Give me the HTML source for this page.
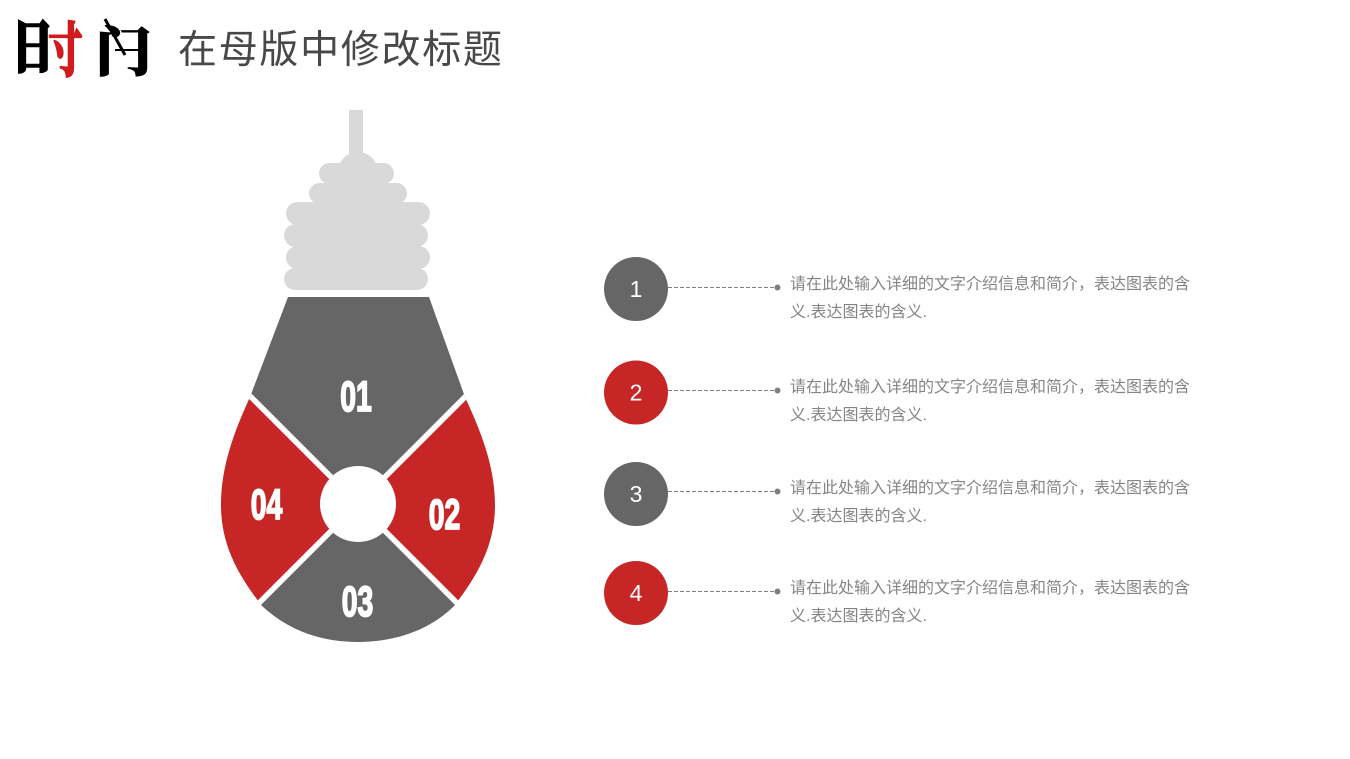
<!DOCTYPE html>
<html lang="zh">
<head>
<meta charset="utf-8">
<style>
html,body{margin:0;padding:0;background:#fff;width:1350px;height:759px;overflow:hidden}
svg{display:block}
.t{font-family:"Liberation Sans","Noto Sans CJK SC",sans-serif;font-size:16px;fill:#858585}
.n{font-family:"Liberation Sans","Noto Sans CJK SC",sans-serif;font-size:23px;fill:#fff;text-anchor:middle}
.b{font-family:"Liberation Sans",sans-serif;font-weight:bold;font-size:43px;fill:#fff;stroke:#fff;stroke-width:1.8;text-anchor:middle}
.s{font-family:"Noto Serif CJK SC",serif;font-weight:900;font-size:60px}
</style>
</head>
<body>
<svg width="1350" height="759" viewBox="0 0 1350 759" xmlns="http://www.w3.org/2000/svg">
<defs>
<clipPath id="bulb">
<path d="M288 297H429L465 397C480 430 495 465 495 505C495 545 478 575 454 606C430 630 395 642 358 642C320 642 288 630 262 606C238 575 221 545 221 505C221 465 235 430 250 397Z"/>
</clipPath>
</defs>

<text class="s" transform="translate(11.500 67) scale(.7 .95)" fill="#000" stroke="#000" stroke-width="2.500">日</text>
<text class="s" transform="translate(48 71) scale(.58 .98)" fill="#d01c1f" stroke="#d01c1f" stroke-width="2">寸</text>
<text class="s" transform="translate(95 71) scale(.95 .88)" fill="#000" stroke="#000" stroke-width="1">门</text>
<line x1="105" y1="19" x2="125" y2="55" stroke="#000" stroke-width="3"/>
<rect x="115" y="49" width="24" height="2" fill="#000"/>

<text x="178" y="63" font-family="'Liberation Sans','Noto Sans CJK SC',sans-serif" font-size="39" font-weight="400" letter-spacing="1.7" fill="#484848">在母版中修改标题</text>

<g fill="#d9d9d9">
<rect x="349" y="110" width="14" height="60"/>
<circle cx="358" cy="172" r="20"/>
<rect x="319" y="163" width="75" height="21" rx="10.5"/>
<rect x="309" y="183" width="98" height="21" rx="10.5"/>
<rect x="286" y="202" width="144" height="23" rx="11.5"/>
<rect x="284" y="224" width="144" height="23" rx="11.5"/>
<rect x="286" y="246" width="144" height="23" rx="11.5"/>
<rect x="284" y="268" width="144" height="22" rx="11"/>
</g>

<g clip-path="url(#bulb)">
<path d="M358 504L140 286H576Z" fill="#666"/>
<path d="M358 504L140 722H576Z" fill="#666"/>
<path d="M358 504L140 286V722Z" fill="#c62626"/>
<path d="M358 504L576 286V722Z" fill="#c62626"/>
<path d="M240 386L476 622M476 386L240 622" stroke="#fff" stroke-width="5.5" fill="none"/>
</g>
<circle cx="358" cy="504" r="38" fill="#fff"/>

<text class="b" transform="translate(356 411) scale(.66 1)">01</text>
<text class="b" transform="translate(444.500 529) scale(.66 1)">02</text>
<text class="b" transform="translate(357.500 616) scale(.66 1)">03</text>
<text class="b" transform="translate(266.500 519) scale(.66 1)">04</text>

<g fill="#666"><circle cx="636" cy="289" r="32"/><circle cx="636" cy="494" r="32"/></g>
<g fill="#c62626"><circle cx="636" cy="392.500" r="32"/><circle cx="636" cy="593" r="32"/></g>
<text class="n" x="636" y="297">1</text>
<text class="n" x="636" y="400.500">2</text>
<text class="n" x="636" y="502">3</text>
<text class="n" x="636" y="601">4</text>

<g stroke="#7f7f7f" stroke-width="1" stroke-dasharray="4 2" fill="none">
<path d="M668 287.500H776M668 390.500H776M668 491.500H776M668 591.500H776"/>
</g>
<g fill="#7f7f7f">
<circle cx="777.500" cy="287.500" r="3"/><circle cx="777.500" cy="390.500" r="3"/><circle cx="777.500" cy="491.500" r="3"/><circle cx="777.500" cy="591.500" r="3"/>
</g>

<text class="t" x="790" y="289">请在此处输入详细的文字介绍信息和简介，表达图表的含</text>
<text class="t" x="790" y="317">义.表达图表的含义.</text>
<text class="t" x="790" y="392">请在此处输入详细的文字介绍信息和简介，表达图表的含</text>
<text class="t" x="790" y="420">义.表达图表的含义.</text>
<text class="t" x="790" y="493">请在此处输入详细的文字介绍信息和简介，表达图表的含</text>
<text class="t" x="790" y="521">义.表达图表的含义.</text>
<text class="t" x="790" y="593">请在此处输入详细的文字介绍信息和简介，表达图表的含</text>
<text class="t" x="790" y="621">义.表达图表的含义.</text>
</svg>
</body>
</html>
